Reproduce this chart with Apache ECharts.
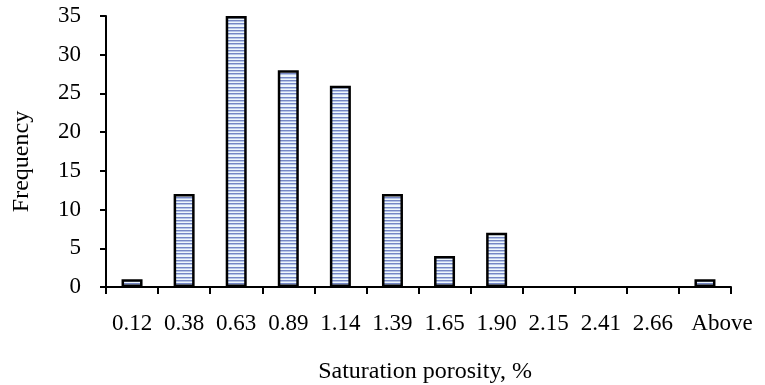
<!DOCTYPE html>
<html><head><meta charset="utf-8">
<script src="https://cdn.jsdelivr.net/npm/echarts@6/dist/echarts.min.js"></script>
<style>html,body{margin:0;padding:0;background:#fff}#c{width:765px;height:385px}</style>
</head><body><div id="c"></div>
<script>
const categories = ['0.12','0.38','0.63','0.89','1.14','1.39','1.65','1.90','2.15','2.41','2.66','Above'];
const frequency = [1, 12, 35, 28, 26, 12, 4, 7, 0, 0, 0, 1];
const yTicks = {min: 0, max: 35, interval: 5};

const pc = document.createElement('canvas');
pc.width = 4; pc.height = 10;
const g = pc.getContext('2d');
g.fillStyle = '#eef7fc'; g.fillRect(0,0,4,10);
[0,3,7].forEach(y => {
  g.fillStyle = '#7587c4'; g.fillRect(0,y,4,1);
  g.fillStyle = '#b6c5e8'; g.fillRect(0,(y+1)%10,4,1);
});

const font = '"Liberation Serif", "Times New Roman", serif';
const catData = categories.map((c, i) => i === categories.length - 1
  ? {value: c, textStyle: {padding: [0, 0, 0, 34]}} : c);
const chart = echarts.init(document.getElementById('c'), null, {renderer: 'canvas'});
chart.setOption({
  animation: false,
  grid: {left: 106, right: 34, top: 16, bottom: 98, containLabel: false, outerBoundsMode: 'none'},
  xAxis: {
    type: 'category', data: catData,
    name: 'Saturation porosity, %', nameLocation: 'middle', nameGap: 73,
    nameTextStyle: {fontFamily: font, fontSize: 24, color: '#000', padding: [0, 0, 0, 13]},
    axisLine: {lineStyle: {color: '#000', width: 2}},
    axisTick: {show: true, length: 7, lineStyle: {color: '#000', width: 2}, alignWithLabel: false},
    axisLabel: {fontFamily: font, fontSize: 23, color: '#000', margin: 25, interval: 0},
    splitLine: {show: false}
  },
  yAxis: {
    type: 'value', min: yTicks.min, max: yTicks.max, interval: yTicks.interval,
    name: 'Frequency', nameLocation: 'middle', nameGap: 72, nameRotate: 90,
    nameTextStyle: {fontFamily: font, fontSize: 24, color: '#000', padding: [0, 20, 0, 0]},
    axisLine: {show: true, lineStyle: {color: '#000', width: 2}},
    axisTick: {show: true, length: 6, lineStyle: {color: '#000', width: 2}},
    axisLabel: {fontFamily: font, fontSize: 23, color: '#000', margin: 25},
    splitLine: {show: false}
  },
  series: [{
    type: 'bar', data: frequency.map(v => v === 0 ? '-' : v), barWidth: 21,
    itemStyle: {color: {image: pc, repeat: 'repeat'}, borderColor: '#000', borderWidth: 2.5}
  }]
});
</script></body></html>
